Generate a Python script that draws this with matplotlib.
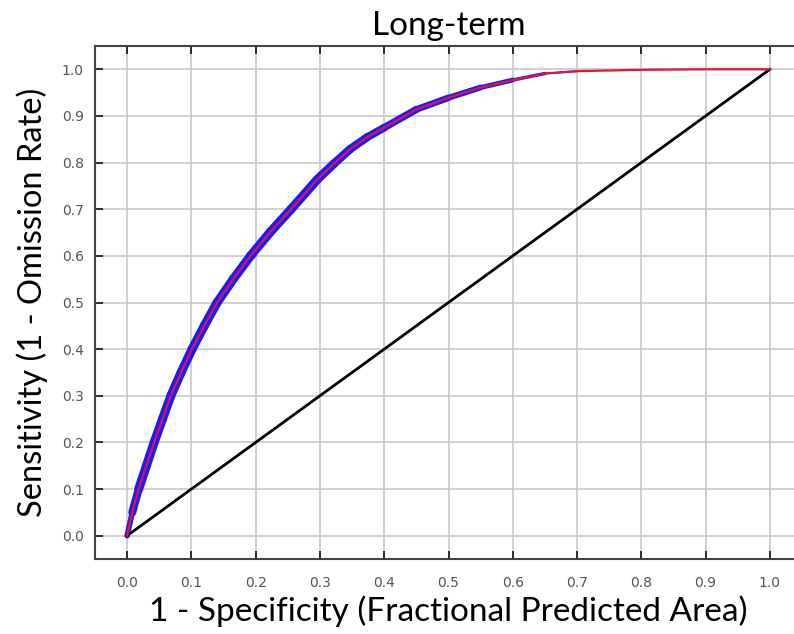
import numpy as np
import matplotlib.pyplot as plt
from matplotlib.collections import LineCollection

# mean ROC curve
fpr = [0.0, 0.008, 0.018, 0.03, 0.042, 0.055, 0.068, 0.084, 0.101, 0.12,
       0.14, 0.165, 0.192, 0.222, 0.255, 0.296, 0.322, 0.347, 0.373, 0.4,
       0.45, 0.5, 0.55, 0.6, 0.65, 0.7, 0.8, 0.9, 1.0]
tpr = [0.0, 0.05, 0.1, 0.15, 0.2, 0.25, 0.3, 0.35, 0.4, 0.45,
       0.5, 0.55, 0.6, 0.65, 0.7, 0.764, 0.798, 0.829, 0.854, 0.875,
       0.914, 0.939, 0.961, 0.977, 0.991, 0.996, 0.999, 1.0, 1.0]
# spread of the blue band around the mean (points)
spread = [3, 5, 6.5, 6.5, 6.5, 6.5, 6.5, 6.5, 6.5, 6.5,
          6.5, 6.5, 6.5, 6.5, 6.5, 6.5, 6.2, 6, 5.8, 5.5,
          5, 4.5, 4, 3, 2, 0.8, 0, 0, 0]
ticks = np.round(np.arange(0, 1.01, 0.1), 1)

fig = plt.figure(figsize=(7.94, 6.34), dpi=100)
ax = fig.add_axes([95/794, 75/634, 707/794, 513/634])

pts = np.column_stack([fpr, tpr])
segs = np.stack([pts[:-1], pts[1:]], axis=1)
widths = (np.array(spread[:-1]) + np.array(spread[1:])) / 2
ax.add_collection(LineCollection(segs, linewidths=widths, colors='#1a1aff',
                                 capstyle='round', joinstyle='round', zorder=3))
ax.plot(fpr, tpr, color='#e0143c', lw=1.6, zorder=4)
ax.plot([0, 1], [0, 1], color='black', lw=2, zorder=3)

ax.set_xlim(-0.05, 1.05)
ax.set_ylim(-0.05, 1.05)
ax.set_xticks(ticks)
ax.set_yticks(ticks)
ax.set_xticklabels([f'{t:.1f}' for t in ticks])
ax.set_yticklabels([f'{t:.1f}' for t in ticks])
ax.grid(True, color='#c8c8c8', lw=1.2)
ax.set_axisbelow(True)
ax.tick_params(direction='in', length=6, width=1.2, colors='#111111',
               labelcolor='#555555', labelsize=10, top=True, pad=12)
ax.tick_params(axis='y', pad=8)
for s in ax.spines.values():
    s.set_color('#444444')
    s.set_linewidth(1.5)

ax.set_title('Long-term', fontsize=24, family='Lato', pad=8)
ax.set_xlabel('1 - Specificity (Fractional Predicted Area)', fontsize=24,
              family='Lato', labelpad=4)
ax.set_ylabel('Sensitivity (1 - Omission Rate)', fontsize=23.5,
              family='Lato', labelpad=10)

plt.savefig('out.png', dpi=100)
